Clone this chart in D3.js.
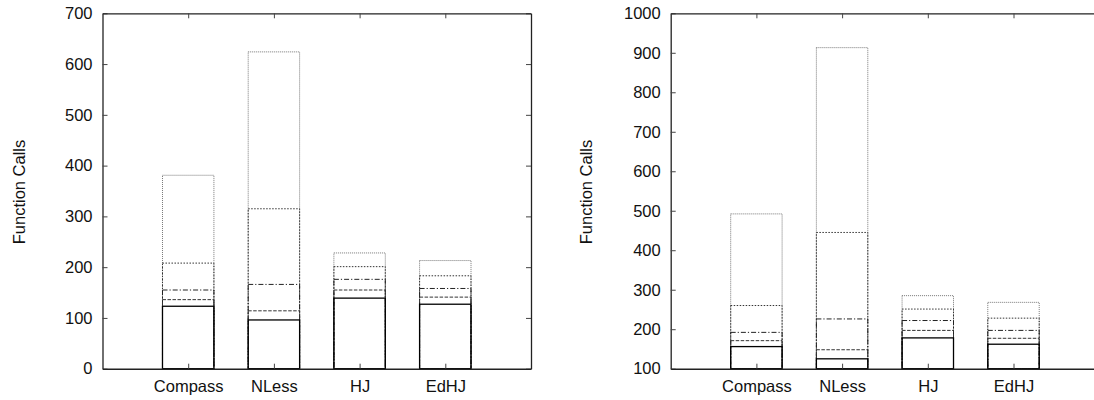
<!DOCTYPE html>
<html>
<head>
<meta charset="utf-8">
<script src="https://cdn.jsdelivr.net/npm/d3@7"></script>
<style>
  html, body { margin: 0; padding: 0; background: #fff; }
  svg { display: block; }
  text { font-family: "Liberation Sans", Arial, Helvetica, sans-serif; fill: #111; }
</style>
</head>
<body>
<svg id="chart" width="1094" height="400"></svg>
<script>
// ---- data ----
const categories = ["Compass", "NLess", "HJ", "EdHJ"];

// left panel (y from 0 to 700)
const leftSolid    = [123, 96, 139, 127];
const leftDashed   = [136, 114, 155, 141];
const leftDashDot  = [155, 166, 176, 158];
const leftDotted   = [208, 315, 201, 183];
const leftFine     = [381, 624, 228, 213];
const leftTicks    = [0, 100, 200, 300, 400, 500, 600, 700];

// right panel (y from 100 to 1000)
const rightSolid   = [156, 125, 178, 162];
const rightDashed  = [171, 148, 197, 177];
const rightDashDot = [192, 226, 222, 197];
const rightDotted  = [260, 445, 251, 228];
const rightFine    = [492, 913, 285, 268];
const rightTicks   = [100, 200, 300, 400, 500, 600, 700, 800, 900, 1000];

const yLabel = "Function Calls";

// ---- styles ----
const styles = [
  { key: "fine",    dash: "1,1",       color: "#777", width: 1 },
  { key: "dotted",  dash: "1.5,1.5",   color: "#333", width: 1 },
  { key: "dashdot", dash: "5,2,1.2,2", color: "#222", width: 1 },
  { key: "dashed",  dash: "3.5,1.5",   color: "#333", width: 1 },
  { key: "solid",   dash: null,        color: "#000", width: 1.3 }
];

const svg = d3.select("#chart");

function drawPanel(cfg) {
  const g = svg.append("g");
  const x = d3.scaleLinear().domain([0, 5]).range([cfg.x0, cfg.x1]);
  const y = d3.scaleLinear().domain(cfg.yDomain).range([cfg.yBot, cfg.yTop]);
  const bw = 0.6;

  cfg.series.forEach((vals, si) => {
    const st = styles[si];
    g.selectAll(null)
      .data(vals.map((v, i) => ({ v, i })))
      .enter().append("rect")
      .attr("x", d => x(d.i + 1 - bw / 2))
      .attr("width", d => x(d.i + 1 + bw / 2) - x(d.i + 1 - bw / 2))
      .attr("y", d => y(d.v))
      .attr("height", d => y(cfg.yDomain[0]) - y(d.v))
      .attr("fill", "none")
      .attr("stroke", st.color)
      .attr("stroke-width", st.width)
      .attr("stroke-dasharray", st.dash);
  });

  const tickLen = 5;
  const axL = d3.axisLeft(y).tickValues(cfg.ticks).tickSize(-tickLen).tickPadding(10)
    .tickFormat(d3.format("d")).tickSizeOuter(0);
  const axR = d3.axisRight(y).tickValues(cfg.ticks).tickSize(-tickLen).tickFormat("").tickSizeOuter(0);
  const axB = d3.axisBottom(x).tickValues([1, 2, 3, 4]).tickSize(-tickLen).tickPadding(12)
    .tickFormat(d => categories[d - 1]).tickSizeOuter(0);
  const axT = d3.axisTop(x).tickValues([1, 2, 3, 4]).tickSize(-tickLen).tickFormat("").tickSizeOuter(0);

  const gl = g.append("g").attr("transform", `translate(${cfg.x0},0)`).call(axL);
  const gr = g.append("g").attr("transform", `translate(${cfg.x1},0)`).call(axR);
  const gb = g.append("g").attr("transform", `translate(0,${cfg.yBot})`).call(axB);
  const gt = g.append("g").attr("transform", `translate(0,${cfg.yTop})`).call(axT);

  [gl, gr, gb, gt].forEach(a => {
    a.selectAll(".domain").attr("stroke", "#222").attr("stroke-width", 1.3);
    a.selectAll(".tick line").attr("stroke", "#444").attr("stroke-width", 1);
    a.selectAll("text").attr("font-size", "16.5px")
      .attr("font-family", "'Liberation Sans', Arial, sans-serif").attr("fill", "#111");
  });
  gb.selectAll(".domain").attr("stroke-width", 1.6);

  g.append("text")
    .attr("transform", `translate(${cfg.labelX},${(cfg.yTop + cfg.yBot) / 2 + 1}) rotate(-90)`)
    .attr("text-anchor", "middle")
    .attr("dominant-baseline", "central")
    .attr("font-size", "16.5px")
    .text(yLabel);
}

drawPanel({
  x0: 102.5, x1: 531, yTop: 13.3, yBot: 368.7,
  yDomain: [0, 700], ticks: leftTicks, labelX: 18.5,
  series: [leftFine, leftDotted, leftDashDot, leftDashed, leftSolid]
});

drawPanel({
  x0: 670.7, x1: 1099.2, yTop: 13.3, yBot: 368.7,
  yDomain: [100, 1000], ticks: rightTicks, labelX: 586,
  series: [rightFine, rightDotted, rightDashDot, rightDashed, rightSolid]
});
</script>
</body>
</html>
